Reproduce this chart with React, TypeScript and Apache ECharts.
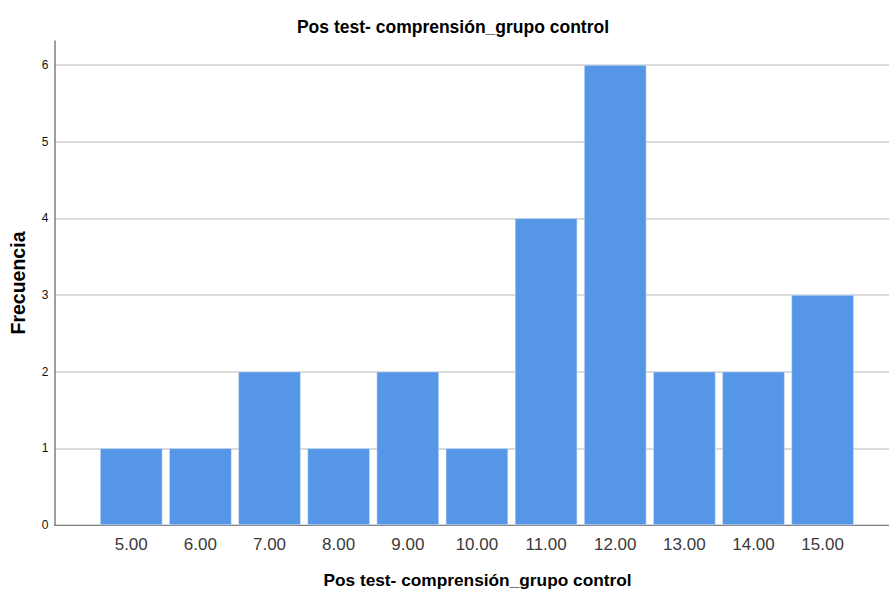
import React, { useEffect, useRef } from "react";
import * as echarts from "echarts";

const scores = [5, 6, 7, 8, 9, 10, 11, 12, 13, 14, 15];
const frequencies = [1, 1, 2, 1, 2, 1, 4, 6, 2, 2, 3];
const yTicks = [0, 1, 2, 3, 4, 5, 6];
const titleText = "Pos test- comprensión_grupo control";
const xName = "Pos test- comprensión_grupo control";
const yName = "Frecuencia";

const FONT = "Liberation Sans, Arial, sans-serif";

export default function App() {
  const ref = useRef<HTMLDivElement>(null);
  useEffect(() => {
    if (!ref.current) return;
    const chart = echarts.init(ref.current, undefined, { renderer: "svg" });
    chart.setOption({
      animation: false,
      backgroundColor: "#ffffff",
      title: {
        text: titleText,
        left: 448,
        top: 13,
        textAlign: "center",
        textStyle: {
          fontFamily: FONT,
          fontSize: 17.5,
          fontWeight: "bold",
          color: "#000",
        },
      },
      grid: {
        left: 54.5,
        top: 41,
        right: 0,
        bottom: 67,
        containLabel: false,
        outerBoundsMode: "none",
      },
      xAxis: {
        type: "value",
        min: 3.89,
        max: 15.96,
        name: xName,
        nameLocation: "middle",
        nameGap: 46,
        nameTextStyle: {
          fontFamily: FONT,
          fontSize: 17.3,
          fontWeight: "bold",
          color: "#000",
          padding: [0, 0, 0, 11.5],
        },
        axisLine: { show: true, lineStyle: { color: "#7f7f7f", width: 1 } },
        axisTick: { show: false },
        splitLine: { show: false },
        axisLabel: {
          customValues: scores,
          formatter: (v: number) => v.toFixed(2),
          fontFamily: FONT,
          fontSize: 17,
          color: "#3a3a3a",
          margin: 11,
        },
      },
      yAxis: {
        type: "value",
        min: 0,
        max: 6.313,
        name: yName,
        nameLocation: "middle",
        nameGap: 27,
        nameRotate: 90,
        nameTextStyle: {
          fontFamily: FONT,
          fontSize: 19.5,
          fontWeight: "bold",
          color: "#000",
        },
        axisLine: { show: true, lineStyle: { color: "#7f7f7f", width: 1.5 } },
        axisTick: { show: false, customValues: yTicks },
        splitLine: { show: true, lineStyle: { color: "#cfcfcf", width: 1.5 } },
        axisLabel: {
          customValues: yTicks,
          fontFamily: FONT,
          fontSize: 12,
          color: "#111",
          margin: 6,
        },
      },
      series: [
        {
          type: "bar",
          data: scores.map((s, i) => [s, frequencies[i]]),
          barWidth: 62.3,
          itemStyle: { color: "#5596e6", borderColor: "#dfeafa", borderWidth: 0.5 },
        },
      ],
    });
    return () => chart.dispose();
  }, []);
  return <div ref={ref} style={{ width: 889, height: 592, position: "absolute", left: 0, top: 0 }} />;
}
